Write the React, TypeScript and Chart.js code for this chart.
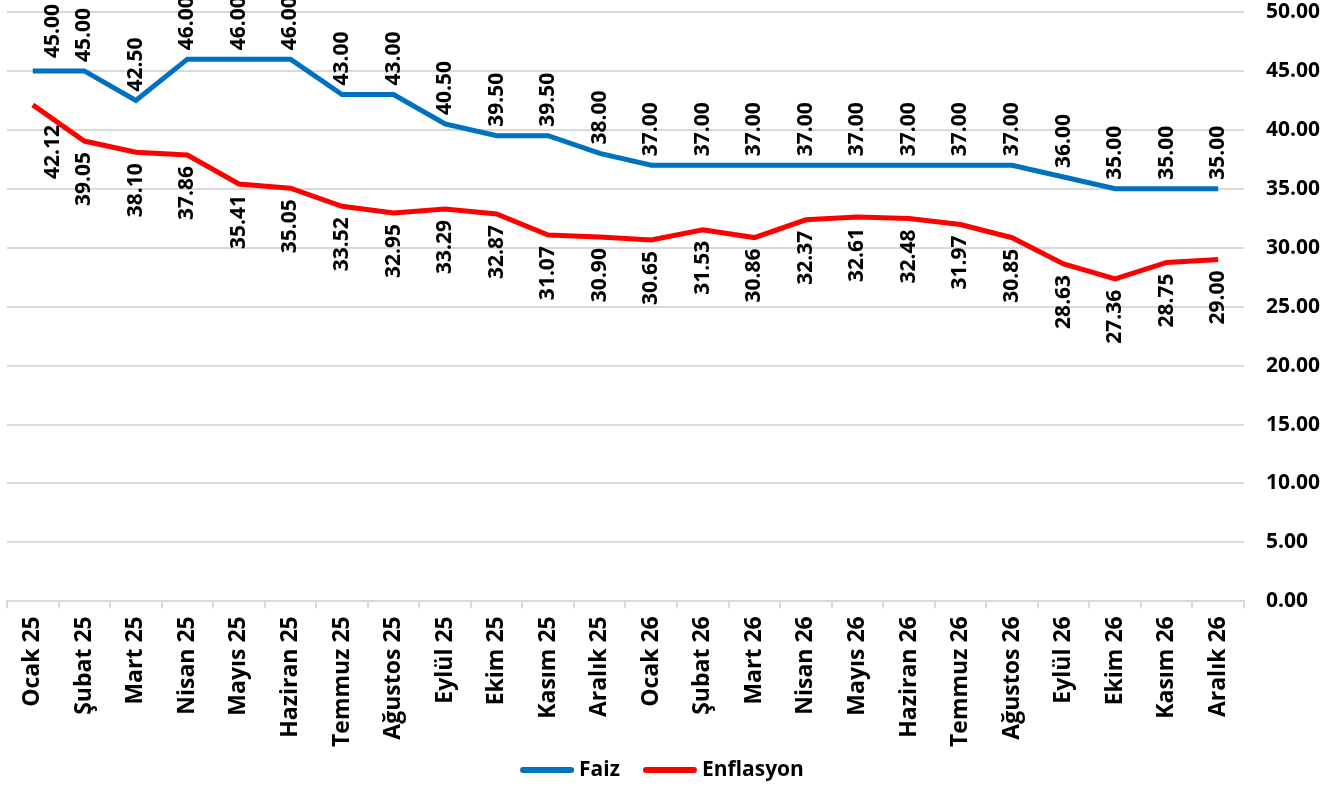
import React, { useEffect, useRef } from "react";
import { Chart, registerables } from "chart.js";

Chart.register(...registerables);

const categories = [
  "Ocak 25", "Şubat 25", "Mart 25", "Nisan 25", "Mayıs 25", "Haziran 25",
  "Temmuz 25", "Ağustos 25", "Eylül 25", "Ekim 25", "Kasım 25", "Aralık 25",
  "Ocak 26", "Şubat 26", "Mart 26", "Nisan 26", "Mayıs 26", "Haziran 26",
  "Temmuz 26", "Ağustos 26", "Eylül 26", "Ekim 26", "Kasım 26", "Aralık 26",
];

const faiz = [45, 45, 42.5, 46, 46, 46, 43, 43, 40.5, 39.5, 39.5, 38, 37, 37, 37, 37, 37, 37, 37, 37, 36, 35, 35, 35];
const enflasyon = [42.12, 39.05, 38.1, 37.86, 35.41, 35.05, 33.52, 32.95, 33.29, 32.87, 31.07, 30.9, 30.65, 31.53, 30.86, 32.37, 32.61, 32.48, 31.97, 30.85, 28.63, 27.36, 28.75, 29.0];

const FONT = "'Open Sans', sans-serif";

const labelPlugin = {
  id: "rotLabels",
  afterDatasetsDraw(chart: any) {
    const ctx = chart.ctx;
    ctx.save();
    ctx.font = `bold 21px ${FONT}`;
    ctx.fillStyle = "#000";
    ctx.textBaseline = "middle";
    chart.data.datasets.forEach((ds: any, di: number) => {
      const meta = chart.getDatasetMeta(di);
      meta.data.forEach((pt: any, i: number) => {
        const v = ds.data[i] as number;
        const txt = v.toFixed(2);
        let x = pt.x;
        let y = pt.y;
        if (i === 0) x += 20;
        ctx.save();
        if (di === 0) {
          ctx.translate(x, y - (i === 0 ? 13 : 9));
          ctx.rotate(-Math.PI / 2);
          ctx.textAlign = "left";
        } else {
          ctx.translate(x, y + (i === 0 ? 20 : 11));
          ctx.rotate(-Math.PI / 2);
          ctx.textAlign = "right";
        }
        ctx.fillText(txt, 0, 0);
        ctx.restore();
      });
    });
    ctx.restore();
  },
};

const legendPlugin = {
  id: "lineLegend",
  afterDraw(chart: any) {
    const ctx = chart.ctx;
    const lineW = 54;
    const gapText = 5;
    const gapItems = 23;
    ctx.save();
    ctx.font = `bold 21px ${FONT}`;
    ctx.textBaseline = "middle";
    ctx.textAlign = "left";
    const items = chart.data.datasets.map((ds: any) => ({
      label: ds.label as string,
      color: ds.borderColor as string,
      w: ctx.measureText(ds.label).width,
    }));
    const total = items.reduce((s: number, it: any) => s + lineW + gapText + it.w, 0) + gapItems * (items.length - 1);
    let x = 662 - total / 2;
    const y = 770;
    items.forEach((it: any) => {
      ctx.strokeStyle = it.color;
      ctx.lineWidth = 6;
      ctx.lineCap = "round";
      ctx.beginPath();
      ctx.moveTo(x + 3, y);
      ctx.lineTo(x + lineW - 3, y);
      ctx.stroke();
      x += lineW + gapText;
      ctx.fillStyle = "#000";
      ctx.fillText(it.label, x, y);
      x += it.w + gapItems;
    });
    ctx.restore();
  },
};

export default function App() {
  const ref = useRef<HTMLCanvasElement | null>(null);
  useEffect(() => {
    if (!ref.current) return;
    const chart = new Chart(ref.current, {
      type: "line",
      data: {
        labels: categories,
        datasets: [
          {
            label: "Faiz",
            data: faiz,
            borderColor: "#0070C0",
            backgroundColor: "#0070C0",
            borderWidth: 5,
            pointRadius: 0,
            tension: 0,
          },
          {
            label: "Enflasyon",
            data: enflasyon,
            borderColor: "#FF0000",
            backgroundColor: "#FF0000",
            borderWidth: 5,
            pointRadius: 0,
            tension: 0,
          },
        ],
      },
      options: {
        animation: false,
        responsive: true,
        maintainAspectRatio: false,
        layout: { padding: { left: 7, top: 12, right: 21, bottom: 32 } },
        plugins: {
          tooltip: { enabled: false },
          legend: { display: false },
        },
        scales: {
          x: {
            offset: true,
            grid: {
              display: true,
              drawOnChartArea: false,
              drawTicks: true,
              tickLength: 7,
              color: "#d9d9d9",
              lineWidth: 2,
              offset: true,
            },
            border: { display: true, color: "#d9d9d9", width: 2 },
            ticks: {
              minRotation: 90,
              maxRotation: 90,
              autoSkip: false,
              padding: 8,
              color: "#000",
              font: { family: FONT, size: 23, weight: "bold" },
            },
          },
          y: {
            position: "right",
            min: 0,
            max: 50,
            grid: {
              color: "#d9d9d9",
              lineWidth: 2,
              drawTicks: true,
              tickLength: 22,
              tickColor: "rgba(0,0,0,0)",
            },
            border: { display: false },
            ticks: {
              stepSize: 5,
              padding: 0,
              color: "#000",
              font: { family: FONT, size: 21, weight: "bold", lineHeight: 1 },
              callback: (v: any) => Number(v).toFixed(2),
            },
          },
        },
      },
      plugins: [labelPlugin, legendPlugin],
    });
    return () => chart.destroy();
  }, []);
  return (
    <div style={{ position: "absolute", left: 0, top: 0, width: 1341, height: 787 }}>
      <canvas ref={ref} />
    </div>
  );
}
